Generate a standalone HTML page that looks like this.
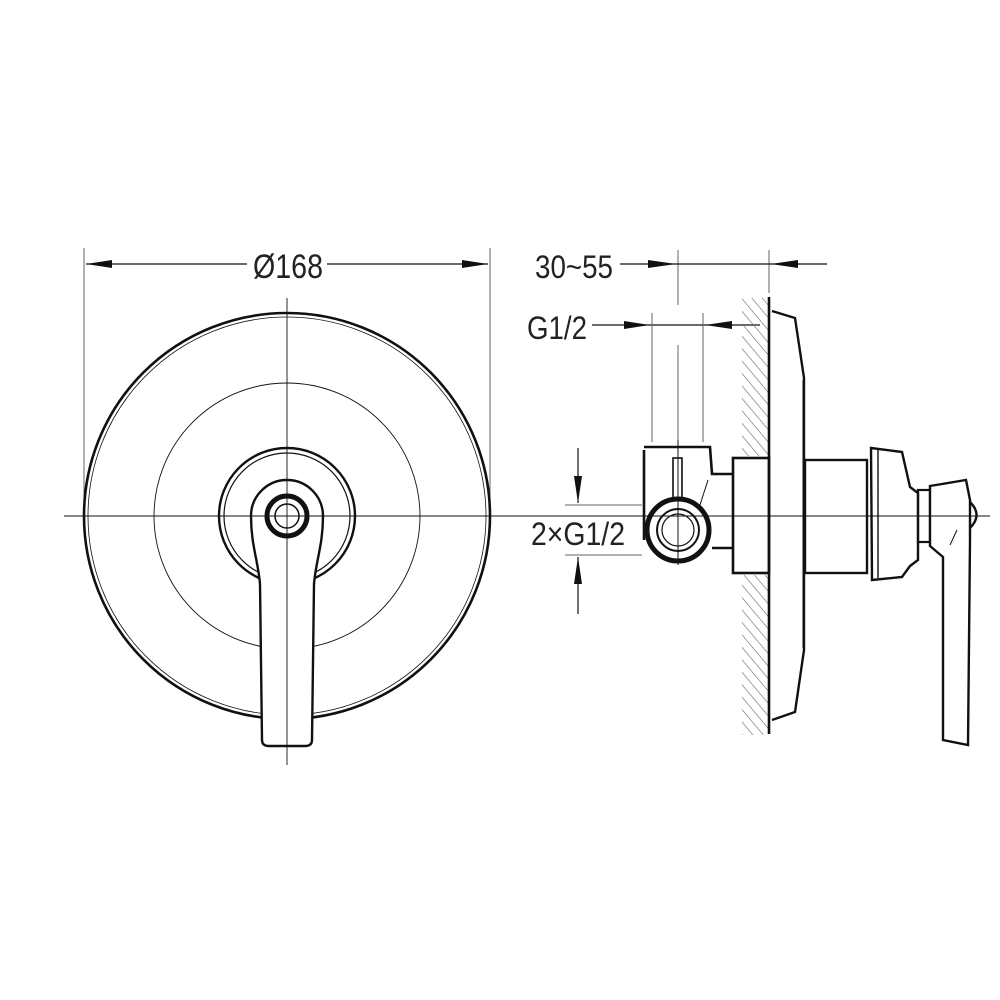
<!DOCTYPE html>
<html><head><meta charset="utf-8"><style>
html,body{margin:0;padding:0;background:#fff}
svg{display:block}
text{font-family:"Liberation Sans",sans-serif;fill:#222}
</style></head><body>
<svg width="1000" height="1000" viewBox="0 0 1000 1000" xmlns="http://www.w3.org/2000/svg">
<defs>
<pattern id="h" width="8" height="8" patternUnits="userSpaceOnUse" patternTransform="rotate(-40)">
<line x1="0" y1="0" x2="0" y2="8" stroke="#666" stroke-width="1.2"/>
</pattern>
</defs>
<g fill="#111" stroke="none">
<polygon points="86,264 112,260 112,268"/>
<polygon points="488,264 462,260 462,268"/>
<polygon points="676,264 648,260 648,268"/>
<polygon points="771,264 798,260 798,268"/>
<polygon points="650,325 624,321 624,329"/>
<polygon points="705,325 732,321 732,329"/>
<polygon points="578,503 574,476 582,476"/>
<polygon points="578,557 574,584 582,584"/>
</g>
<g fill="none" stroke="#111">
<!-- LEFT VIEW -->
<line x1="84" y1="248" x2="84" y2="505" stroke-width="1" stroke="#666"/>
<line x1="490" y1="248" x2="490" y2="505" stroke-width="1" stroke="#666"/>
<line x1="247" y1="264" x2="86" y2="264" stroke-width="1.2"/>
<line x1="327" y1="264" x2="488" y2="264" stroke-width="1.2"/>
<circle cx="287" cy="516" r="203" stroke-width="2.6"/>
<circle cx="287" cy="516" r="199" stroke-width="0.8"/>
<circle cx="287" cy="516" r="133" stroke-width="0.9"/>
<circle cx="287" cy="516" r="68" stroke-width="2.4"/>
<circle cx="287" cy="516" r="63" stroke-width="1.2"/>
<path d="M262,740 L260,584 C258,560 251,545 251,516 A36,36 0 0 1 323,516 C323,545 316,560 314,584 L312,740 Q312,746 305,746 L269,746 Q262,746 262,740 Z" fill="#fff" stroke-width="2.4"/>
<circle cx="287" cy="516" r="20" stroke-width="5"/>
<circle cx="287" cy="516" r="12" stroke-width="1.5"/>
<line x1="287" y1="298" x2="287" y2="765" stroke-width="0.9"/>
<line x1="64" y1="516" x2="510" y2="516" stroke-width="0.9"/>

<!-- RIGHT VIEW dims -->
<line x1="678" y1="250" x2="678" y2="305" stroke-width="1" stroke="#666"/>
<line x1="678" y1="345" x2="678" y2="440" stroke-width="1" stroke="#666"/>
<line x1="769" y1="250" x2="769" y2="293" stroke-width="1" stroke="#666"/>
<line x1="620" y1="264" x2="827" y2="264" stroke-width="1.2"/>
<line x1="592" y1="325" x2="760" y2="325" stroke-width="1.2"/>
<line x1="652" y1="313" x2="652" y2="442" stroke-width="1" stroke="#666"/>
<line x1="703" y1="313" x2="703" y2="442" stroke-width="1" stroke="#666"/>
<line x1="565" y1="505" x2="642" y2="505" stroke-width="1" stroke="#666"/>
<line x1="565" y1="555" x2="642" y2="555" stroke-width="1" stroke="#666"/>
<line x1="578" y1="448" x2="578" y2="503" stroke-width="1.2"/>
<line x1="578" y1="614" x2="578" y2="557" stroke-width="1.2"/>
<!-- wall hatch -->
<rect x="742" y="298" width="26" height="158" fill="url(#h)" stroke="none"/>
<rect x="742" y="575" width="26" height="160" fill="url(#h)" stroke="none"/>
<line x1="769" y1="297" x2="769" y2="734" stroke-width="2.6"/>
<!-- plate -->
<path d="M772,311 L795,318 L804,378 L804,650 L795,712 L772,720" stroke-width="2.4"/>
<line x1="803" y1="380" x2="803" y2="648" stroke-width="1"/>
<!-- body -->
<path d="M644,450 L644,540 M644,447 L710,447 L712,474 L733,474 M712,548 L733,548" stroke-width="2.6"/>
<rect x="733" y="458" width="36" height="115" stroke-width="2.6"/>
<rect x="673" y="458" width="9" height="42" stroke-width="1.6"/>
<circle cx="678" cy="530" r="31" stroke-width="5" fill="#fff"/>
<circle cx="678" cy="530" r="21" stroke-width="2"/>
<circle cx="678" cy="530" r="16" stroke-width="1.2"/>
<line x1="708" y1="480" x2="700" y2="505" stroke-width="1"/>
<!-- stem -->
<rect x="805" y="460" width="62" height="113" stroke-width="2.4"/>
<path d="M871,448 L902,452 L910,487 L918,493 L918,560 L910,566 L902,577 L872,580 Z" stroke-width="2.4" fill="#fff"/>
<line x1="878" y1="450" x2="878" y2="578" stroke-width="1.4"/>
<rect x="918" y="490" width="12" height="52" stroke-width="2.2"/>
<path d="M930,486 L966,480 L970,500 L970,540 L968,745 L943,740 L943,557 L930,546 Z" stroke-width="2.4" fill="#fff"/>
<path d="M970,502 Q983,515 970,528" stroke-width="2.4"/>
<line x1="950" y1="545" x2="957" y2="530" stroke-width="1"/>
<line x1="500" y1="516" x2="990" y2="516" stroke-width="1"/>
<line x1="678" y1="440" x2="678" y2="565" stroke-width="1"/>
</g>
<text x="253" y="278" font-size="34" textLength="70" lengthAdjust="spacingAndGlyphs">Ø168</text>
<text x="535" y="278" font-size="32" textLength="78" lengthAdjust="spacingAndGlyphs">30~55</text>
<text x="527" y="339" font-size="32" textLength="60" lengthAdjust="spacingAndGlyphs">G1/2</text>
<text x="531" y="545" font-size="32" textLength="94" lengthAdjust="spacingAndGlyphs">2×G1/2</text>
</svg>
</body></html>
